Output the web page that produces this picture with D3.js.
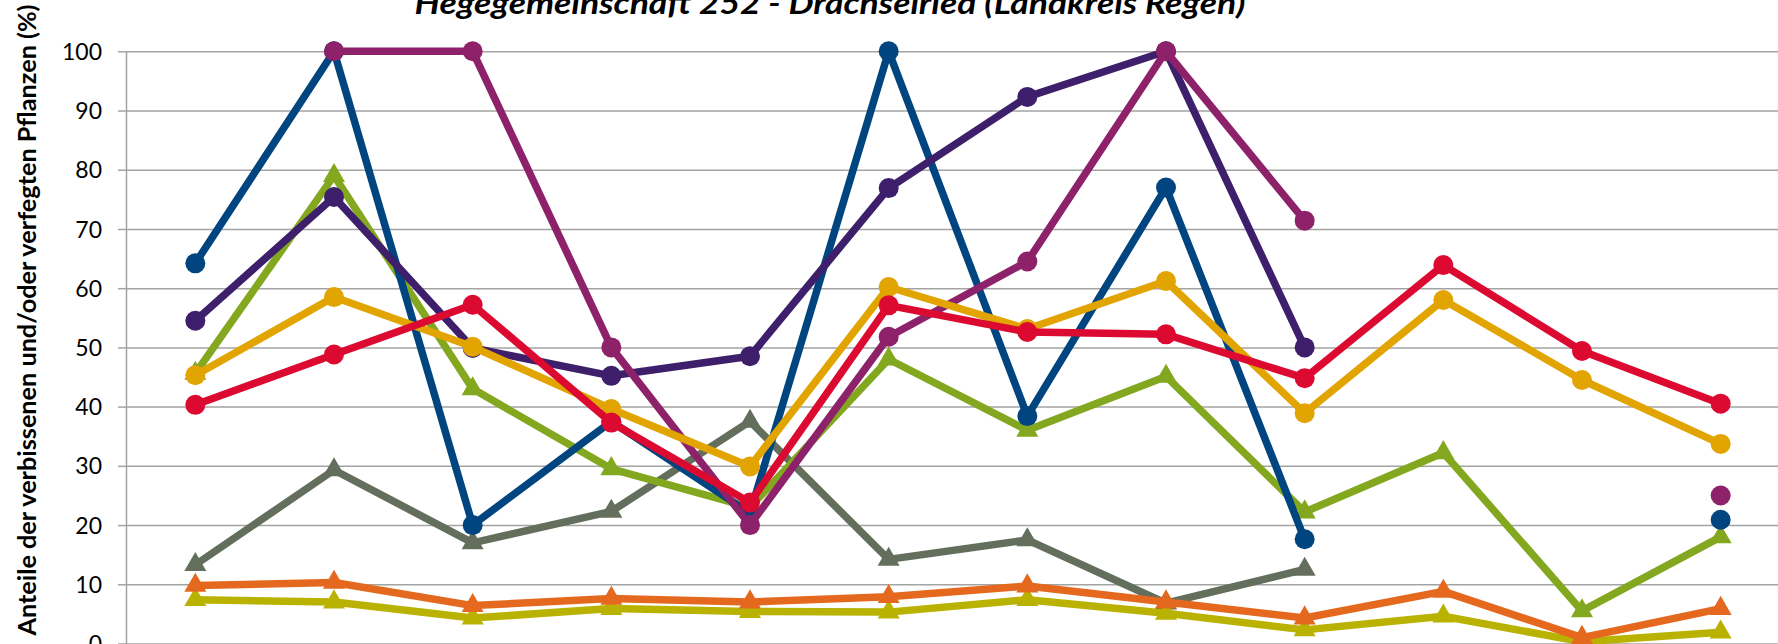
<!DOCTYPE html>
<html><head><meta charset="utf-8">
<script src="https://cdn.jsdelivr.net/npm/d3@7"></script>
<style>html,body{margin:0;padding:0;background:#fff;overflow:hidden}</style>
</head><body>
<svg id="chart" width="1778" height="644"></svg>
<script>
// ---- data ----
const categories = ["1991","1994","1997","2000","2003","2006","2009","2012","2015","2018","2021","2024"];
const yTicks = [0,10,20,30,40,50,60,70,80,90,100];
const titleText = "Hegegemeinschaft 252 - Drachselried (Landkreis Regen)";
const yTitleText = "Anteile der verbissenen und/oder verfegten Pflanzen (%)";

const serGray    = [13.3, 29.3, 17.0, 22.3, 37.5, 14.2, 17.5, 6.8, 12.5, null, null, null];
const serGreen   = [45.6, 79.0, 43.0, 29.5, 23.0, 48.0, 36.0, 45.1, 22.2, 32.2, 5.5, 18.0];
const serOlive   = [7.4, 7.0, 4.3, 5.9, 5.4, 5.3, 7.4, 5.1, 2.3, 4.6, 0.3, 1.9];
const serOrange  = [9.8, 10.3, 6.4, 7.6, 7.0, 7.9, 9.7, 7.0, 4.3, 8.8, 1.0, 5.9];
const serBlue    = [64.2, 100, 20.0, 37.5, 22.0, 100, 38.4, 77.0, 17.6, null, null, 20.9];
const serPurple  = [54.5, 75.4, 49.9, 45.2, 48.5, 76.9, 92.3, 100, 50.0, null, null, null];
const serMagenta = [null, 100, 100, 50.0, 20.0, 51.8, 64.5, 100, 71.4, null, null, 25.0];
const serYellow  = [45.3, 58.5, 50.1, 39.6, 29.9, 60.2, 53.1, 61.2, 38.9, 58.0, 44.5, 33.7];
const serRed     = [40.3, 48.8, 57.2, 37.3, 23.8, 57.1, 52.6, 52.2, 44.8, 63.9, 49.4, 40.5];

const seriesList = [
  {values: serGray,    color: "#636f5c", marker: "triangle"},
  {values: serGreen,   color: "#83a81f", marker: "triangle"},
  {values: serOlive,   color: "#bab200", marker: "triangle"},
  {values: serOrange,  color: "#e4691f", marker: "triangle"},
  {values: serBlue,    color: "#00457f", marker: "circle"},
  {values: serPurple,  color: "#3e1f6b", marker: "circle"},
  {values: serMagenta, color: "#8e226a", marker: "circle"},
  {values: serYellow,  color: "#e2a400", marker: "circle"},
  {values: serRed,     color: "#dc0a30", marker: "circle"}
];

// ---- layout ----
const W = 1778, H = 644;
const plotLeft = 126, plotRight = 1790;
const svg = d3.select("#chart");

const x = d3.scalePoint().domain(categories).range([plotLeft, plotRight]).padding(0.5);
const y = d3.scaleLinear().domain([0, 100]).range([643.5, 51.3]);

// gridlines
const grid = d3.axisLeft(y).tickValues(yTicks).tickSize(-(W - plotLeft)).tickFormat("");
const gG = svg.append("g").attr("transform", `translate(${plotLeft},0)`).call(grid);
gG.select(".domain").remove();
gG.selectAll(".tick line").attr("stroke", "#a3a3a3").attr("stroke-width", 1.5);

// y axis with labels and short outer ticks
const yAxis = d3.axisLeft(y).tickValues(yTicks).tickSize(8).tickPadding(16).tickSizeOuter(0);
const gA = svg.append("g").attr("transform", `translate(${plotLeft},0)`).call(yAxis);
gA.select(".domain").attr("stroke", "#a3a3a3").attr("stroke-width", 1.5);
gA.selectAll(".tick line").attr("stroke", "#a3a3a3").attr("stroke-width", 1.5);
gA.selectAll(".tick text").attr("font-family", "Lato, 'Open Sans', sans-serif")
  .attr("font-size", 23).attr("fill", "#000").attr("dy", "0.35em");

// lines and markers
const lineGen = d3.line()
  .defined(d => d.v != null)
  .x(d => x(d.c))
  .y(d => y(d.v));

const triSize = 210;
seriesList.forEach(s => {
  const pts = categories.map((c, i) => ({c, v: s.values[i]}));
  svg.append("path").datum(pts)
    .attr("d", lineGen)
    .attr("fill", "none")
    .attr("stroke", s.color)
    .attr("stroke-width", 7.5)
    .attr("stroke-linejoin", "round")
    .attr("stroke-linecap", "round");
  const valid = pts.filter(d => d.v != null);
  if (s.marker === "circle") {
    svg.append("g").selectAll("circle").data(valid).join("circle")
      .attr("cx", d => x(d.c)).attr("cy", d => y(d.v)).attr("r", 10)
      .attr("fill", s.color);
  } else {
    svg.append("g").selectAll("path").data(valid).join("path")
      .attr("d", d3.symbol(d3.symbolTriangle, triSize)())
      .attr("transform", d => `translate(${x(d.c)},${y(d.v)})`)
      .attr("fill", s.color);
  }
});

// title (cut at top in the reference)
svg.append("text")
  .attr("x", 830).attr("y", 14)
  .attr("text-anchor", "middle")
  .attr("font-family", "Lato, 'Open Sans', sans-serif")
  .attr("font-weight", "bold").attr("font-style", "italic")
  .attr("font-size", 31)
  .attr("textLength", 831).attr("lengthAdjust", "spacingAndGlyphs")
  .text(titleText);

// y axis title
svg.append("text")
  .attr("transform", "translate(36,320) rotate(-90)")
  .attr("text-anchor", "middle")
  .attr("font-family", "Lato, 'Open Sans', sans-serif")
  .attr("font-weight", "bold")
  .attr("font-size", 25)
  .attr("textLength", 631).attr("lengthAdjust", "spacingAndGlyphs")
  .text(yTitleText);
</script>
</body></html>
